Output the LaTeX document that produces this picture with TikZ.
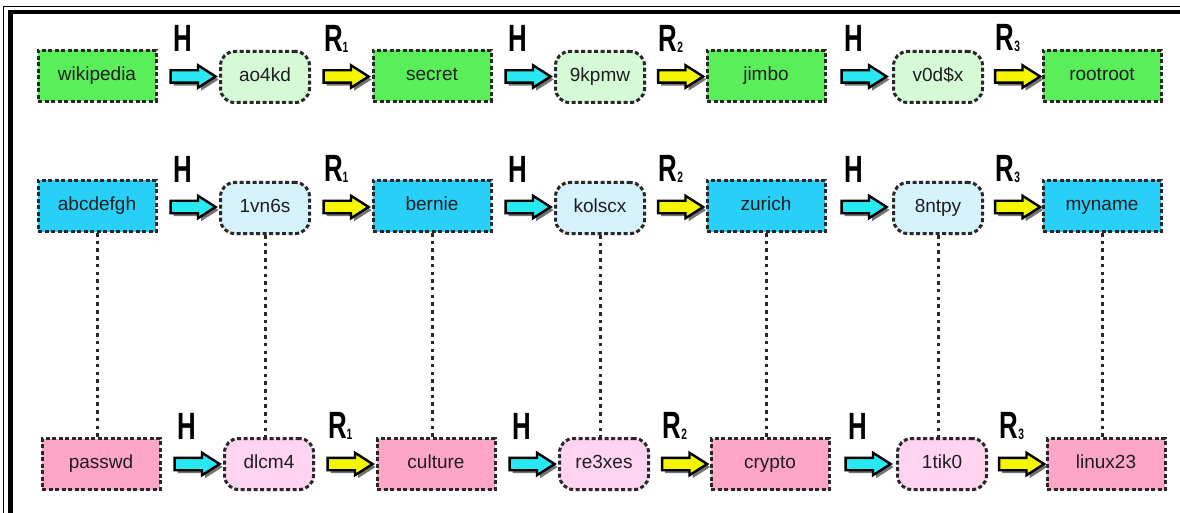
\documentclass[tikz,border=0pt]{standalone}
\usepackage{fontspec}
\setmainfont{Liberation Sans}
\usetikzlibrary{shapes.arrows,shadows,calc}
\definecolor{grect}{RGB}{90,238,90}
\definecolor{glight}{RGB}{214,250,214}
\definecolor{brect}{RGB}{40,208,248}
\definecolor{blight}{RGB}{214,242,252}
\definecolor{prect}{RGB}{255,166,200}
\definecolor{plight}{RGB}{255,212,240}
\definecolor{arrcyan}{RGB}{40,232,242}
\definecolor{arryel}{RGB}{245,245,0}
\definecolor{bord}{RGB}{40,40,40}
\definecolor{txt}{RGB}{30,30,30}
\newcommand\rsub[1]{R\raisebox{-1pt}{\fontsize{15}{15}\selectfont\bfseries #1}}
\begin{document}
\begin{tikzpicture}[x=1pt,y=-1pt,
  base/.style={draw=bord, line width=3pt, dash pattern=on 4pt off 2.5pt,
    minimum height=51pt, text=txt, font=\fontsize{19}{19}\selectfont, inner sep=0pt,
    text height=13pt, text depth=4pt},
  boxnode/.style={base, minimum width=118pt},
  roundnode/.style={base, minimum width=89pt, rounded corners=14pt},
  arr/.style={single arrow, draw=black, line width=2.4pt, minimum height=45pt,
    inner xsep=0pt, inner ysep=5pt, single arrow head extend=5pt,
    single arrow tip angle=65, anchor=center,
    drop shadow={shadow xshift=3pt, shadow yshift=-3pt, fill=black!55, opacity=1}},
  harr/.style={arr, fill=arrcyan},
  rarr/.style={arr, fill=arryel},
  lab/.style={font=\fontsize{38}{38}\selectfont\bfseries, text=black, inner sep=0pt},
  vdots/.style={draw=bord, line width=3pt, dash pattern=on 3.5pt off 4.2pt}
]
\useasboundingbox (0,0) rectangle (1180,513);
\fill[white] (0,0) rectangle (1180,513);
% frame (top and left edges)
\draw[line width=1.3pt] (3.3,513) -- (3.3,6.7) -- (1180,6.7);
\draw[line width=4.3pt] (10.5,513) -- (10.5,12.2) -- (1180,12.2);

% row 1
\node[boxnode, fill=grect] (r1c1) at (97,76) {wikipedia};
\node[roundnode, fill=glight] (r1c2) at (265,77) {ao4kd};
\node[boxnode, fill=grect] (r1c3) at (432,76) {secret};
\node[roundnode, fill=glight] (r1c4) at (600,77) {9kpmw};
\node[boxnode, fill=grect] (r1c5) at (766,76) {jimbo};
\node[roundnode, fill=glight] (r1c6) at (938,77) {v0d\$x};
\node[boxnode, fill=grect] (r1c7) at (1102,76) {rootroot};
% row 2
\node[boxnode, fill=brect] (r2c1) at (97,206) {abcdefgh};
\node[roundnode, fill=blight] (r2c2) at (265,208) {1vn6s};
\node[boxnode, fill=brect] (r2c3) at (432,206) {bernie};
\node[roundnode, fill=blight] (r2c4) at (600,208) {kolscx};
\node[boxnode, fill=brect] (r2c5) at (766,206) {zurich};
\node[roundnode, fill=blight] (r2c6) at (938,208) {8ntpy};
\node[boxnode, fill=brect] (r2c7) at (1102,206) {myname};
% row 3
\node[boxnode, fill=prect] (r3c1) at (101,464) {passwd};
\node[roundnode, fill=plight] (r3c2) at (269,464) {dlcm4};
\node[boxnode, fill=prect] (r3c3) at (436,464) {culture};
\node[roundnode, fill=plight] (r3c4) at (604,464) {re3xes};
\node[boxnode, fill=prect] (r3c5) at (770,464) {crypto};
\node[roundnode, fill=plight] (r3c6) at (942,464) {1tik0};
\node[boxnode, fill=prect] (r3c7) at (1106,464) {linux23};

% vertical dotted links
\foreach \i in {1,...,7}{
  \draw[vdots] (r2c\i.south) -- (r2c\i.south |- r3c\i.north);
}

% arrows and labels
\foreach \r in {1,2,3}{
  \foreach \i/\j/\s/\l in {1/2/harr/H, 2/3/rarr/\rsub{1}, 3/4/harr/H, 4/5/rarr/\rsub{2}, 5/6/harr/H, 6/7/rarr/\rsub{3}}{
    \path (r\r c\i.east) -- (r\r c\j.west) node[midway, \s] (a\r\i) {};
    \node[lab] (l\r\i) at ($(a\r\i.center)+(-5,-38)$) {\scalebox{0.68}[1]{\l}};
  }
}
\end{tikzpicture}
\end{document}
